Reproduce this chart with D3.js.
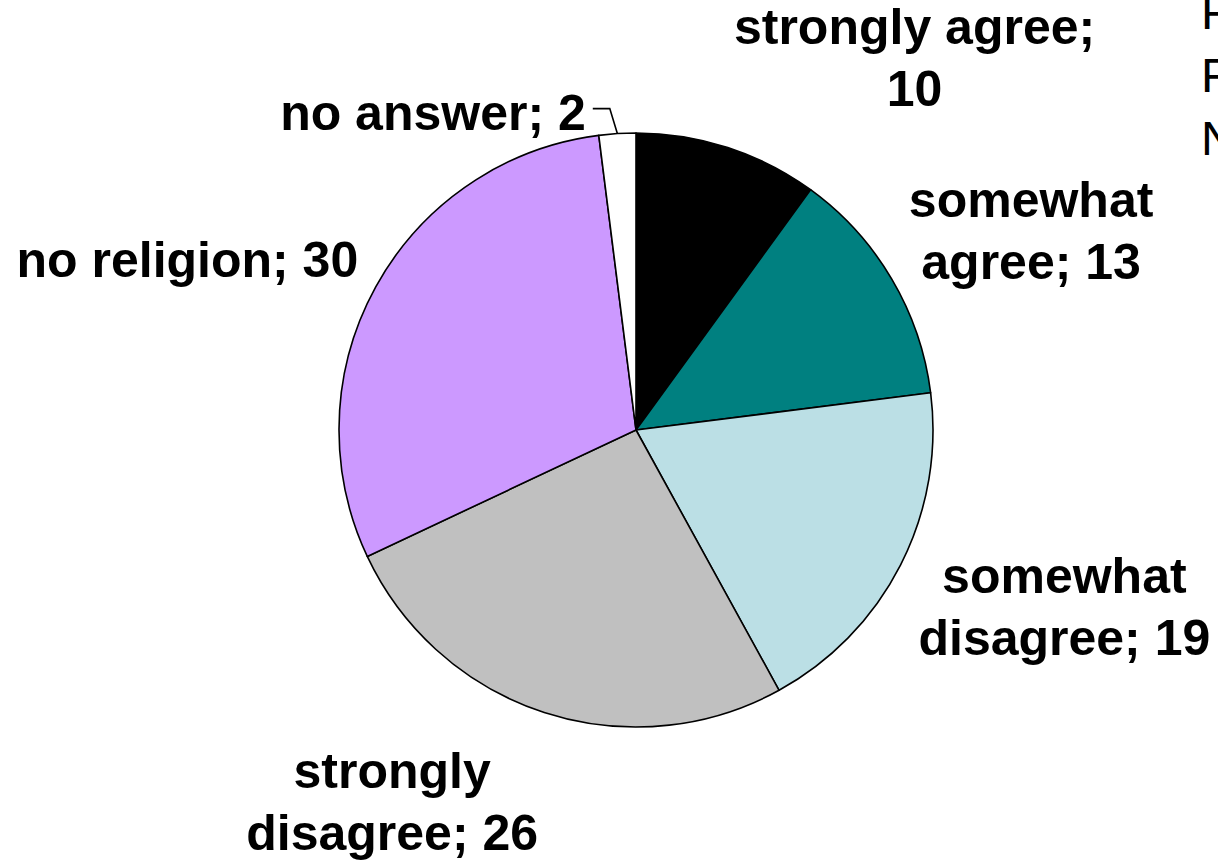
<!DOCTYPE html>
<html>
<head>
<meta charset="utf-8">
<script src="https://cdn.jsdelivr.net/npm/d3@7"></script>
<style>
  body { margin: 0; background: #fff; overflow: hidden; }
  svg { display: block; }
</style>
</head>
<body>
<div id="chart"></div>
<script>
  // data
  var categories = ["strongly agree", "somewhat agree", "somewhat disagree",
                    "strongly disagree", "no religion", "no answer"];
  var values = [10, 13, 19, 26, 30, 2];
  var colors = ["#000000", "#008080", "#BBDFE5", "#C0C0C0", "#CC99FF", "#FFFFFF"];
  // how each label breaks into lines (Excel wraps them)
  var labelLines = [
    ["strongly agree;", "10"],
    ["somewhat", "agree; 13"],
    ["somewhat", "disagree; 19"],
    ["strongly", "disagree; 26"],
    ["no religion; 30"],
    ["no answer; 2"]
  ];
  // clipped legend text at the right edge
  var legendStubs = ["F", "F", "N"];

  var width = 1218,
      height = 860,
      cx = 636,
      cy = 430,
      radius = 297,
      fontSize = 50,
      lineGap = 62;

  var svg = d3.select("#chart").append("svg")
    .attr("width", width)
    .attr("height", height);

  var pie = d3.pie().sort(null).value(function(d){ return d.value; });
  var arc = d3.arc().innerRadius(0).outerRadius(radius);

  var data = categories.map(function(c, i){
    return {name: c, value: values[i], color: colors[i], lines: labelLines[i]};
  });
  var arcs = pie(data);

  var g = svg.append("g")
    .attr("transform", "translate(" + cx + "," + cy + ")");

  g.selectAll("path")
    .data(arcs)
    .enter()
    .append("path")
    .attr("d", arc)
    .style("fill", function(d){ return d.data.color; })
    .style("stroke", "#000")
    .style("stroke-width", 1.6)
    .style("stroke-linejoin", "round");

  var labels = svg.append("g");

  arcs.forEach(function(d){
    var a = (d.startAngle + d.endAngle) / 2,
        s = Math.sin(a), c = Math.cos(a);

    var t = labels.append("text")
      .style("font", "bold " + fontSize + "px 'Liberation Sans', Arial, sans-serif")
      .style("fill", "#000");

    if (d.data.value < 5) {
      // small slice: label sits off to the left with a leader line
      var p0 = [cx + radius * s, cy - radius * c],
          p1 = [cx + (radius + 25) * s - 6, cy - (radius + 25) * c],
          p2 = [p1[0] - 17, p1[1]];
      svg.append("path")
        .attr("d", d3.line()([p0, p1, p2]))
        .style("fill", "none")
        .style("stroke", "#000")
        .style("stroke-width", 1.6);
      t.attr("text-anchor", "end")
        .attr("x", p2[0] - 7)
        .attr("y", p2[1] + 21)
        .text(d.data.lines[0]);
      return;
    }

    t.attr("text-anchor", "middle");
    d.data.lines.forEach(function(line, i){
      t.append("tspan")
        .attr("x", 0)
        .attr("dy", i === 0 ? 0 : lineGap)
        .text(line);
    });

    var b = t.node().getBBox(),
        px = cx + (radius + 20) * s,
        py = cy - (radius + 20) * c;
    var left = s >= 0 ? px : px - b.width;
    var f = (1 + c * 1.25) / 2;
    var top = py - b.height * f;
    t.attr("transform", "translate(" + (left - b.x) + "," + (top - b.y) + ")");
  });

  // legend text that runs past the right edge
  svg.append("g").selectAll("text")
    .data(legendStubs)
    .enter()
    .append("text")
    .attr("x", 1201)
    .attr("y", function(d, i){ return 29 + i * 63; })
    .style("font", fontSize - 2 + "px 'Liberation Sans', Arial, sans-serif")
    .style("fill", "#000")
    .text(function(d){ return d; });
</script>
</body>
</html>
